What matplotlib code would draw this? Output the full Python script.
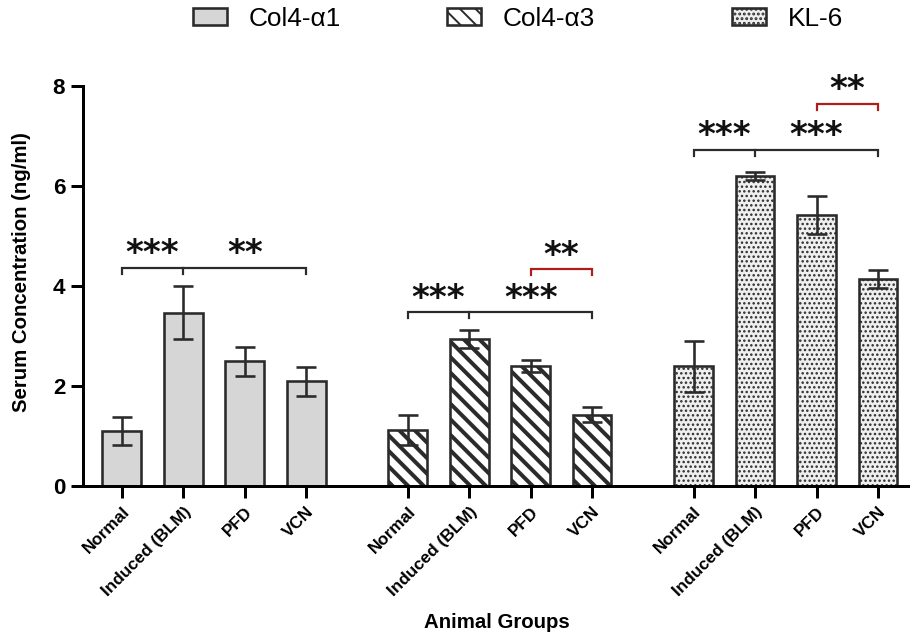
import matplotlib
matplotlib.use('Agg')
import matplotlib.pyplot as plt
from matplotlib.patches import Patch
import numpy as np

# ---------------- data ----------------
groups = ['Normal', 'Induced (BLM)', 'PFD', 'VCN']
series = ['Col4-α1', 'Col4-α3', 'KL-6']
col4a1_mean = [1.10, 3.47, 2.50, 2.10]
col4a1_err = [0.28, 0.53, 0.29, 0.29]
col4a3_mean = [1.12, 2.95, 2.41, 1.43]
col4a3_err = [0.30, 0.18, 0.12, 0.15]
kl6_mean = [2.40, 6.21, 5.43, 4.14]
kl6_err = [0.51, 0.08, 0.38, 0.18]

# significance brackets: (series index, left group, mid group or None, right group, bracket y, colour)
sig_brackets = [
    (0, 0, 1, 3, 4.37, 'black'),
    (1, 0, 1, 3, 3.49, 'black'),
    (1, 2, None, 3, 4.35, 'red'),
    (2, 0, 1, 3, 6.73, 'black'),
    (2, 2, None, 3, 7.65, 'red'),
]
# significance labels: (series index, x offset in group, y, text)
sig_labels = [
    (0, 0.5, 4.64, '***'), (0, 2.0, 4.64, '**'),
    (1, 0.5, 3.75, '***'), (1, 2.0, 3.75, '***'), (1, 2.5, 4.60, '**'),
    (2, 0.5, 7.01, '***'), (2, 2.0, 7.01, '***'), (2, 2.5, 7.94, '**'),
]

means = [col4a1_mean, col4a3_mean, kl6_mean]
errs = [col4a1_err, col4a3_err, kl6_err]

# ---------------- style ----------------
DPI = 140
W, H = 910, 639
px = 72.0 / DPI  # points per pixel
plt.rcParams['font.family'] = ['Liberation Sans', 'DejaVu Sans']

edge = '#2b2b2b'
red = '#b01c1c'
facecols = ['#d6d6d6', 'white', '#efefef']
hatches = [None, '\\\\\\', '.....']
hatch_lw = [1.0, 4.0 * px, 0.8]

fig = plt.figure(figsize=(W / DPI, H / DPI), dpi=DPI)
ax = fig.add_axes([83 / W, 1 - 486 / H, 1 - 83 / W, 400 / H])

group_start = [0.0, 4.65, 9.3]
bar_w = 0.63

all_pos = []
all_lbl = []
for s in range(3):
    xs = [group_start[s] + i for i in range(len(groups))]
    all_pos += xs
    all_lbl += groups
    with plt.rc_context({'hatch.linewidth': hatch_lw[s]}):
        bars = ax.bar(xs, means[s], width=bar_w, color=facecols[s], edgecolor=edge,
                      linewidth=2.6 * px, hatch=hatches[s], zorder=2)
        for b in bars:
            if hasattr(b, 'set_hatch_linewidth'):
                b.set_hatch_linewidth(hatch_lw[s])
    ax.errorbar(xs, means[s], yerr=errs[s], fmt='none', ecolor=edge,
                elinewidth=2.6 * px, capsize=10 * px, capthick=2.6 * px, zorder=3)

# brackets
tick_h = 0.12
for s, a, m, b, y, c in sig_brackets:
    col = edge if c == 'black' else red
    x0 = group_start[s] + a
    x1 = group_start[s] + b
    ax.plot([x0, x0, x1, x1], [y - tick_h, y, y, y - tick_h], color=col,
            lw=2.2 * px, clip_on=False, zorder=4, solid_joinstyle='miter')
    if m is not None:
        xm = group_start[s] + m
        ax.plot([xm, xm], [y, y - tick_h], color=col, lw=2.2 * px, clip_on=False, zorder=4)

for s, xo, y, lab in sig_labels:
    ax.text(group_start[s] + xo, y, lab, ha='center', va='center', fontsize=17.5,
            fontweight='bold', family='DejaVu Sans', color='#111111', clip_on=False)

# axes
ax.set_xlim(-0.63, 12.82)
ax.set_ylim(0, 8)
ax.set_yticks([0, 2, 4, 6, 8])
ax.set_xticks(all_pos)
ax.set_xticklabels(all_lbl, rotation=45, ha='right', rotation_mode='anchor',
                   fontsize=8.8, fontweight='bold')
for lbl in ax.get_yticklabels():
    lbl.set_fontweight('bold')
ax.tick_params(axis='y', length=12 * px, width=3 * px, labelsize=11.5, pad=3, color='black')
ax.tick_params(axis='x', length=12 * px, width=3 * px, pad=3, color='black')
for sp in ['top', 'right']:
    ax.spines[sp].set_visible(False)
for sp in ['left', 'bottom']:
    ax.spines[sp].set_linewidth(3 * px)
    ax.spines[sp].set_color('black')

fig.text(22 / W, 1 - 272 / H, 'Serum Concentration (ng/ml)', rotation=90,
         ha='center', va='center', fontsize=10.5, fontweight='bold')
fig.text(497 / W, 1 - 623 / H, 'Animal Groups', ha='center', va='center',
         fontsize=10.5, fontweight='bold')

# legend (three entries at measured positions)
leg_x = [193, 447, 732]
for s in range(3):
    with plt.rc_context({'hatch.linewidth': hatch_lw[s]}):
        h = Patch(facecolor=facecols[s], edgecolor=edge, hatch=hatches[s], linewidth=2.6 * px)
        if hasattr(h, 'set_hatch_linewidth'):
            h.set_hatch_linewidth(hatch_lw[s])
    fig.legend(handles=[h], labels=[series[s]], loc='center left',
               bbox_to_anchor=(leg_x[s] / W, 1 - 19 / H), frameon=False,
               borderpad=0, borderaxespad=0, fontsize=13.5, handlelength=1.3,
               handleheight=0.62, handletextpad=0.82)

fig.savefig('out.png', dpi=DPI)
